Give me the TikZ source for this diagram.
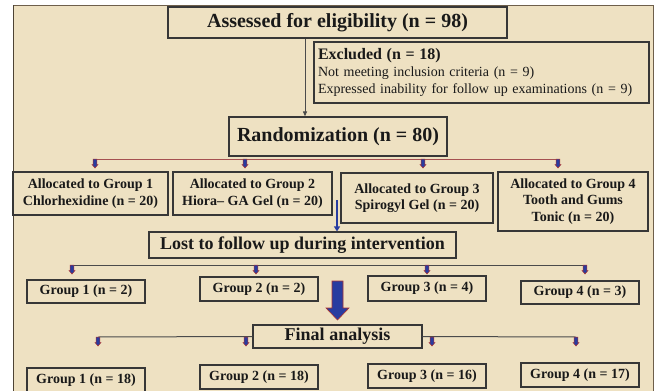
\documentclass[tikz,border=0pt]{standalone}
\usepackage{fontspec}
\setmainfont{Liberation Serif}
\usetikzlibrary{arrows.meta}
\definecolor{parch}{RGB}{238,225,194}
\definecolor{framec}{RGB}{110,95,75}
\definecolor{boxc}{RGB}{55,55,55}
\definecolor{txt}{RGB}{25,25,25}
\definecolor{redline}{RGB}{165,80,80}
\definecolor{grayline}{RGB}{75,75,75}
\definecolor{arrblue}{RGB}{40,60,160}
\definecolor{arrred}{RGB}{170,50,50}
\tikzset{
  box/.style={draw=boxc, line width=1.2pt, fill=parch, inner sep=0pt, align=center,
    text=txt, font=\bfseries\fontsize{14}{16.5}\selectfont},
  bigtext/.style={font=\bfseries\fontsize{20}{22}\selectfont},
  midtext/.style={font=\bfseries\fontsize{18}{20}\selectfont},
  rline/.style={draw=redline, line width=1pt},
  gline/.style={draw=grayline, line width=1pt},
  sarrow/.pic={\filldraw[fill=arrblue, draw=arrred, line width=0.5pt]
    (-1.8,0) -- (1.8,0) -- (1.8,5.5) -- (3,5.5) -- (0,9) -- (-3,5.5) -- (-1.8,5.5) -- cycle;}
}
\begin{document}
\begin{tikzpicture}[x=1pt,y=-1pt]
\useasboundingbox (0,0) rectangle (659,391);
\fill[white] (0,0) rectangle (659,391);
\fill[parch] (13,5) rectangle (653,400);
\draw[framec, line width=1pt] (13,400) -- (13,5) -- (653,5) -- (653,400);
\draw[framec!70!black, line width=1.6pt] (13.5,400) -- (13.5,5);

% nodes
\node[box, bigtext, minimum width=339, minimum height=31] (assess) at (337.5,22.5)
  {Assessed for eligibility (n = 98)};
\node[box, minimum width=335, minimum height=61, text width=327, align=left,
  font=\fontsize{14}{17}\selectfont] (excl) at (481.5,72.5)
  {{\bfseries\fontsize{16}{17}\selectfont Excluded (n = 18)}\\
   Not meeting inclusion criteria (n = 9)\\
   Expressed inability for follow up examinations (n = 9)};
\node[box, bigtext, minimum width=218, minimum height=39] (random) at (338,136.5)
  {Randomization (n = 80)};

% blue connector behind the boxes
\coordinate (bs) at (337,200);

\node[box, minimum width=155, minimum height=43] (g1a) at (90.5,193.5)
  {Allocated to Group 1\\Chlorhexidine (n = 20)};
\node[box, minimum width=159, minimum height=43] (g2a) at (252.5,193.5)
  {Allocated to Group 2\\Hiora-- GA Gel (n = 20)};
\node[box, minimum width=152, minimum height=50] (g3a) at (417,198)
  {Allocated to Group 3\\Spirogyl Gel (n = 20)};
\node[box, minimum width=150, minimum height=59] (g4a) at (573,201.5)
  {Allocated to Group 4\\Tooth and Gums\\Tonic (n = 20)};

\node[box, midtext, minimum width=307, minimum height=26] (lost) at (302.5,245)
  {Lost to follow up during intervention};

\node[box, minimum width=118, minimum height=23] (g1b) at (86,291.5) {Group 1 (n = 2)};
\node[box, minimum width=118, minimum height=24] (g2b) at (259,289) {Group 2 (n = 2)};
\node[box, minimum width=118, minimum height=25] (g3b) at (427,288.5) {Group 3 (n = 4)};
\node[box, minimum width=118, minimum height=23] (g4b) at (580,292.5) {Group 4 (n = 3)};

\node[box, midtext, minimum width=169, minimum height=23] (final) at (337.5,336.5)
  {Final analysis};

\node[box, minimum width=118, minimum height=24] (g1c) at (86,380) {Group 1 (n = 18)};
\node[box, minimum width=118, minimum height=24] (g2c) at (259,377) {Group 2 (n = 18)};
\node[box, minimum width=118, minimum height=24] (g3c) at (427,376) {Group 3 (n = 16)};
\node[box, minimum width=118, minimum height=24] (g4c) at (580,375) {Group 4 (n = 17)};

% connectors
\coordinate (ax) at (305,0);
\draw[gline, -{Triangle[length=5pt,width=4pt]}] (ax |- assess.south) -- (ax |- random.north);

\draw[draw=arrblue, line width=2pt, -{Triangle[length=5pt,width=6pt]}] (bs) -- (bs |- lost.north);

\coordinate (r1) at (95,159);
\coordinate (r2) at (245,159);
\coordinate (r3) at (423,159);
\coordinate (r4) at (558,159);
\draw[rline] (r1) -- (r4);
\foreach \c in {r1,r2,r3,r4} \pic at (\c) {sarrow};

\coordinate (l1) at (72,265);
\coordinate (l2) at (256,265);
\coordinate (l3) at (427,265);
\coordinate (l4) at (585,265);
\draw[gline] (l1) -- (l4);
\foreach \c in {l1,l2,l3,l4} \pic at (\c) {sarrow};

% big blue arrow
\filldraw[fill=arrblue, draw=arrred, line width=0.6pt]
  (332,281) -- (343,281) -- (343,308) -- (349,308) -- (337.5,320) -- (326,308) -- (332,308) -- cycle;

\coordinate (f1) at (98,337);
\coordinate (f2) at (246,337);
\coordinate (f3) at (432,337);
\coordinate (f4) at (576,337);
\draw[gline] (f1) -- (final.west);
\draw[gline] (final.east) -- (f4);
\foreach \c in {f1,f2,f3,f4} \pic at (\c) {sarrow};
\end{tikzpicture}
\end{document}
